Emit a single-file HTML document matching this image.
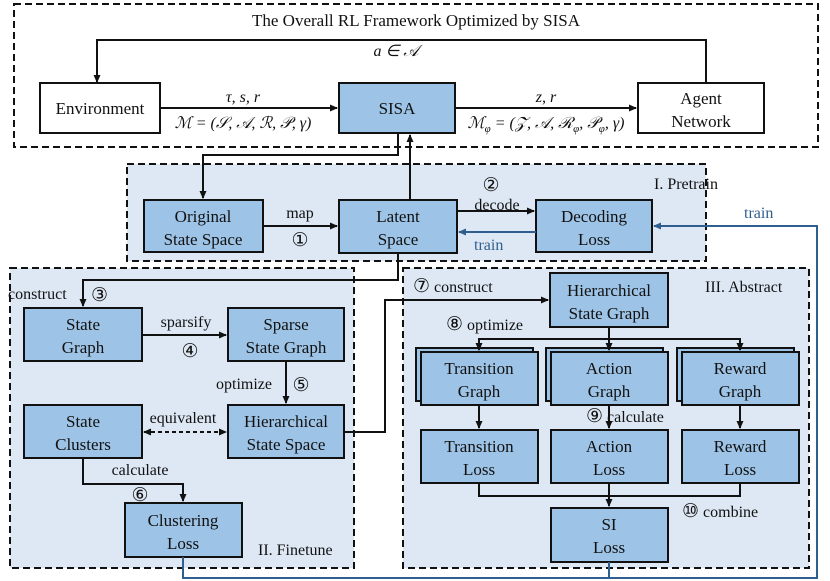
<!DOCTYPE html>
<html><head><meta charset="utf-8"><style>
body{margin:0;background:#fff}
svg{display:block;font-family:"Liberation Serif",serif}
.c{font-family:"DejaVu Sans",sans-serif;font-size:19px}
</style></head><body>
<svg width="830" height="581" viewBox="0 0 830 581" xmlns="http://www.w3.org/2000/svg">
<defs>
<marker id="a" markerWidth="8" markerHeight="8" refX="7" refY="4" orient="auto" markerUnits="userSpaceOnUse"><path d="M0,0.5 L8,4 L0,7.5 z" fill="#111"/></marker>
<marker id="b" markerWidth="8" markerHeight="8" refX="7" refY="4" orient="auto" markerUnits="userSpaceOnUse"><path d="M0,0.5 L8,4 L0,7.5 z" fill="#2f5f8f"/></marker>
<marker id="s" markerWidth="8" markerHeight="8" refX="1" refY="4" orient="auto" markerUnits="userSpaceOnUse"><path d="M8,0.5 L0,4 L8,7.5 z" fill="#111"/></marker>
</defs>
<rect x="14" y="4" width="804" height="143" fill="#fff" stroke="#111" stroke-width="2" stroke-dasharray="7,4"/>
<rect x="127" y="164" width="579" height="97" fill="#dde8f4" stroke="#111" stroke-width="2" stroke-dasharray="7,4"/>
<rect x="10" y="268" width="344" height="300" fill="#dde8f4" stroke="#111" stroke-width="2" stroke-dasharray="7,4"/>
<rect x="403" y="268" width="406" height="300" fill="#dde8f4" stroke="#111" stroke-width="2" stroke-dasharray="7,4"/>

<g font-size="16" fill="#111" text-anchor="middle">
<text x="416" y="26" font-size="17">The Overall RL Framework Optimized by SISA</text>
<text x="396" y="56" font-style="italic">a ∈ 𝒜</text>
<text x="243" y="102" font-style="italic">τ, s, r</text>
<text x="243" y="128" font-style="italic">ℳ = (𝒮, 𝒜, ℛ, 𝒫, γ)</text>
<text x="546" y="102" font-style="italic">z, r</text>
<text x="546" y="128" font-style="italic">ℳ<tspan font-size="11" dy="4">φ</tspan><tspan dy="-4"> = (𝒵, 𝒜, ℛ</tspan><tspan font-size="11" dy="4">φ</tspan><tspan dy="-4">, 𝒫</tspan><tspan font-size="11" dy="4">φ</tspan><tspan dy="-4">, γ)</tspan></text>
</g>

<g stroke="#111" stroke-width="2">
<rect x="40" y="83" width="120" height="50" fill="#fff"/>
<rect x="339" y="83" width="116" height="50" fill="#9dc3e6"/>
<rect x="638" y="83" width="126" height="50" fill="#fff"/>
<rect x="144" y="200" width="119" height="52" fill="#9dc3e6"/>
<rect x="339" y="200" width="118" height="53" fill="#9dc3e6"/>
<rect x="536" y="200" width="116" height="52" fill="#9dc3e6"/>
<rect x="24" y="308" width="118" height="53" fill="#9dc3e6"/>
<rect x="228" y="308" width="116" height="53" fill="#9dc3e6"/>
<rect x="24" y="405" width="118" height="53" fill="#9dc3e6"/>
<rect x="228" y="405" width="116" height="53" fill="#9dc3e6"/>
<rect x="125" y="503" width="117" height="54" fill="#9dc3e6"/>
<rect x="550" y="273" width="118" height="54" fill="#9dc3e6"/>
<rect x="416" y="348" width="117" height="53" fill="#9dc3e6"/>
<rect x="421" y="352" width="117" height="53" fill="#9dc3e6"/>
<rect x="546" y="348" width="117" height="53" fill="#9dc3e6"/>
<rect x="551" y="352" width="117" height="53" fill="#9dc3e6"/>
<rect x="677" y="348" width="117" height="53" fill="#9dc3e6"/>
<rect x="682" y="352" width="117" height="53" fill="#9dc3e6"/>
<rect x="421" y="430" width="117" height="53" fill="#9dc3e6"/>
<rect x="551" y="430" width="117" height="53" fill="#9dc3e6"/>
<rect x="682" y="430" width="117" height="53" fill="#9dc3e6"/>
<rect x="551" y="508" width="117" height="54" fill="#9dc3e6"/>
</g>

<g stroke="#111" stroke-width="2" fill="none">
<path d="M706,83 V40 H97 V82" marker-end="url(#a)"/>
<path d="M160,108 H337" marker-end="url(#a)"/>
<path d="M455,108 H636" marker-end="url(#a)"/>
<path d="M398,133 V155 H203 V198" marker-end="url(#a)"/>
<path d="M410,200 V135" marker-end="url(#a)"/>
<path d="M263,226 H337" marker-end="url(#a)"/>
<path d="M457,211 H534" marker-end="url(#a)"/>
<path d="M398,253 V280 H83 V306" marker-end="url(#a)"/>
<path d="M142,335 H226" marker-end="url(#a)"/>
<path d="M286,361 V403" marker-end="url(#a)"/>
<path d="M144,432 H226" stroke-dasharray="4,3" marker-end="url(#a)" marker-start="url(#s)"/>
<path d="M83,458 V484 H183 V501" marker-end="url(#a)"/>
<path d="M344,432 H385 V300 H548" marker-end="url(#a)"/>
<path d="M609,327 V350" marker-end="url(#a)"/>
<path d="M479,350 V339 H740 V350" marker-end="url(#a)"/>
<path d="M479,339 V350" marker-end="url(#a)"/>
<path d="M479,405 V428" marker-end="url(#a)"/>
<path d="M609,405 V428" marker-end="url(#a)"/>
<path d="M740,405 V428" marker-end="url(#a)"/>
<path d="M479,483 V496 H740 V483"/>
<path d="M609,483 V506" marker-end="url(#a)"/>
</g>
<g stroke="#2f5f8f" stroke-width="2" fill="none">
<path d="M536,232 H459" marker-end="url(#b)"/>
<path d="M183,557 V578 H817 V226 H654" marker-end="url(#b)"/>
<path d="M609,562 V578"/>
</g>

<g font-size="17" fill="#111" text-anchor="middle">
<text x="100" y="114">Environment</text>
<text x="397" y="114">SISA</text>
<text x="701" y="104">Agent</text><text x="701" y="127">Network</text>
<text x="203" y="222">Original</text><text x="203" y="245">State Space</text>
<text x="398" y="222">Latent</text><text x="398" y="245">Space</text>
<text x="594" y="222">Decoding</text><text x="594" y="245">Loss</text>
<text x="83" y="330">State</text><text x="83" y="353">Graph</text>
<text x="286" y="330">Sparse</text><text x="286" y="353">State Graph</text>
<text x="83" y="427">State</text><text x="83" y="450">Clusters</text>
<text x="286" y="427">Hierarchical</text><text x="286" y="450">State Space</text>
<text x="183" y="526">Clustering</text><text x="183" y="549">Loss</text>
<text x="609" y="296">Hierarchical</text><text x="609" y="319">State Graph</text>
<text x="479" y="374">Transition</text><text x="479" y="397">Graph</text>
<text x="609" y="374">Action</text><text x="609" y="397">Graph</text>
<text x="740" y="374">Reward</text><text x="740" y="397">Graph</text>
<text x="479" y="452">Transition</text><text x="479" y="475">Loss</text>
<text x="609" y="452">Action</text><text x="609" y="475">Loss</text>
<text x="740" y="452">Reward</text><text x="740" y="475">Loss</text>
<text x="609" y="530">SI</text><text x="609" y="553">Loss</text>
</g>
<g font-size="16" fill="#111">
<text x="654" y="189">I. Pretrain</text>
<text x="300" y="218" text-anchor="middle">map</text>
<text x="300" y="246" text-anchor="middle" class="c">①</text>
<text x="491" y="191" text-anchor="middle" class="c">②</text>
<text x="497" y="210" text-anchor="middle">decode</text>
<text x="8" y="299">construct</text>
<text x="91" y="301" class="c">③</text>
<text x="186" y="327" text-anchor="middle">sparsify</text>
<text x="190" y="357" text-anchor="middle" class="c">④</text>
<text x="244" y="389" text-anchor="middle">optimize</text>
<text x="301" y="391" text-anchor="middle" class="c">⑤</text>
<text x="183" y="423" text-anchor="middle">equivalent</text>
<text x="140" y="475" text-anchor="middle">calculate</text>
<text x="140" y="501" text-anchor="middle" class="c">⑥</text>
<text x="258" y="555">II. Finetune</text>
<text x="413" y="292"><tspan class="c">⑦</tspan> construct</text>
<text x="446" y="330"><tspan class="c">⑧</tspan> optimize</text>
<text x="705" y="292">III. Abstract</text>
<text x="586" y="422"><tspan class="c">⑨</tspan>  calculate</text>
<text x="682" y="517"><tspan class="c">⑩</tspan> combine</text>
</g>
<g font-size="16" fill="#2f5f8f">
<text x="474" y="250">train</text>
<text x="744" y="218">train</text>
</g>
</svg>
</body></html>
